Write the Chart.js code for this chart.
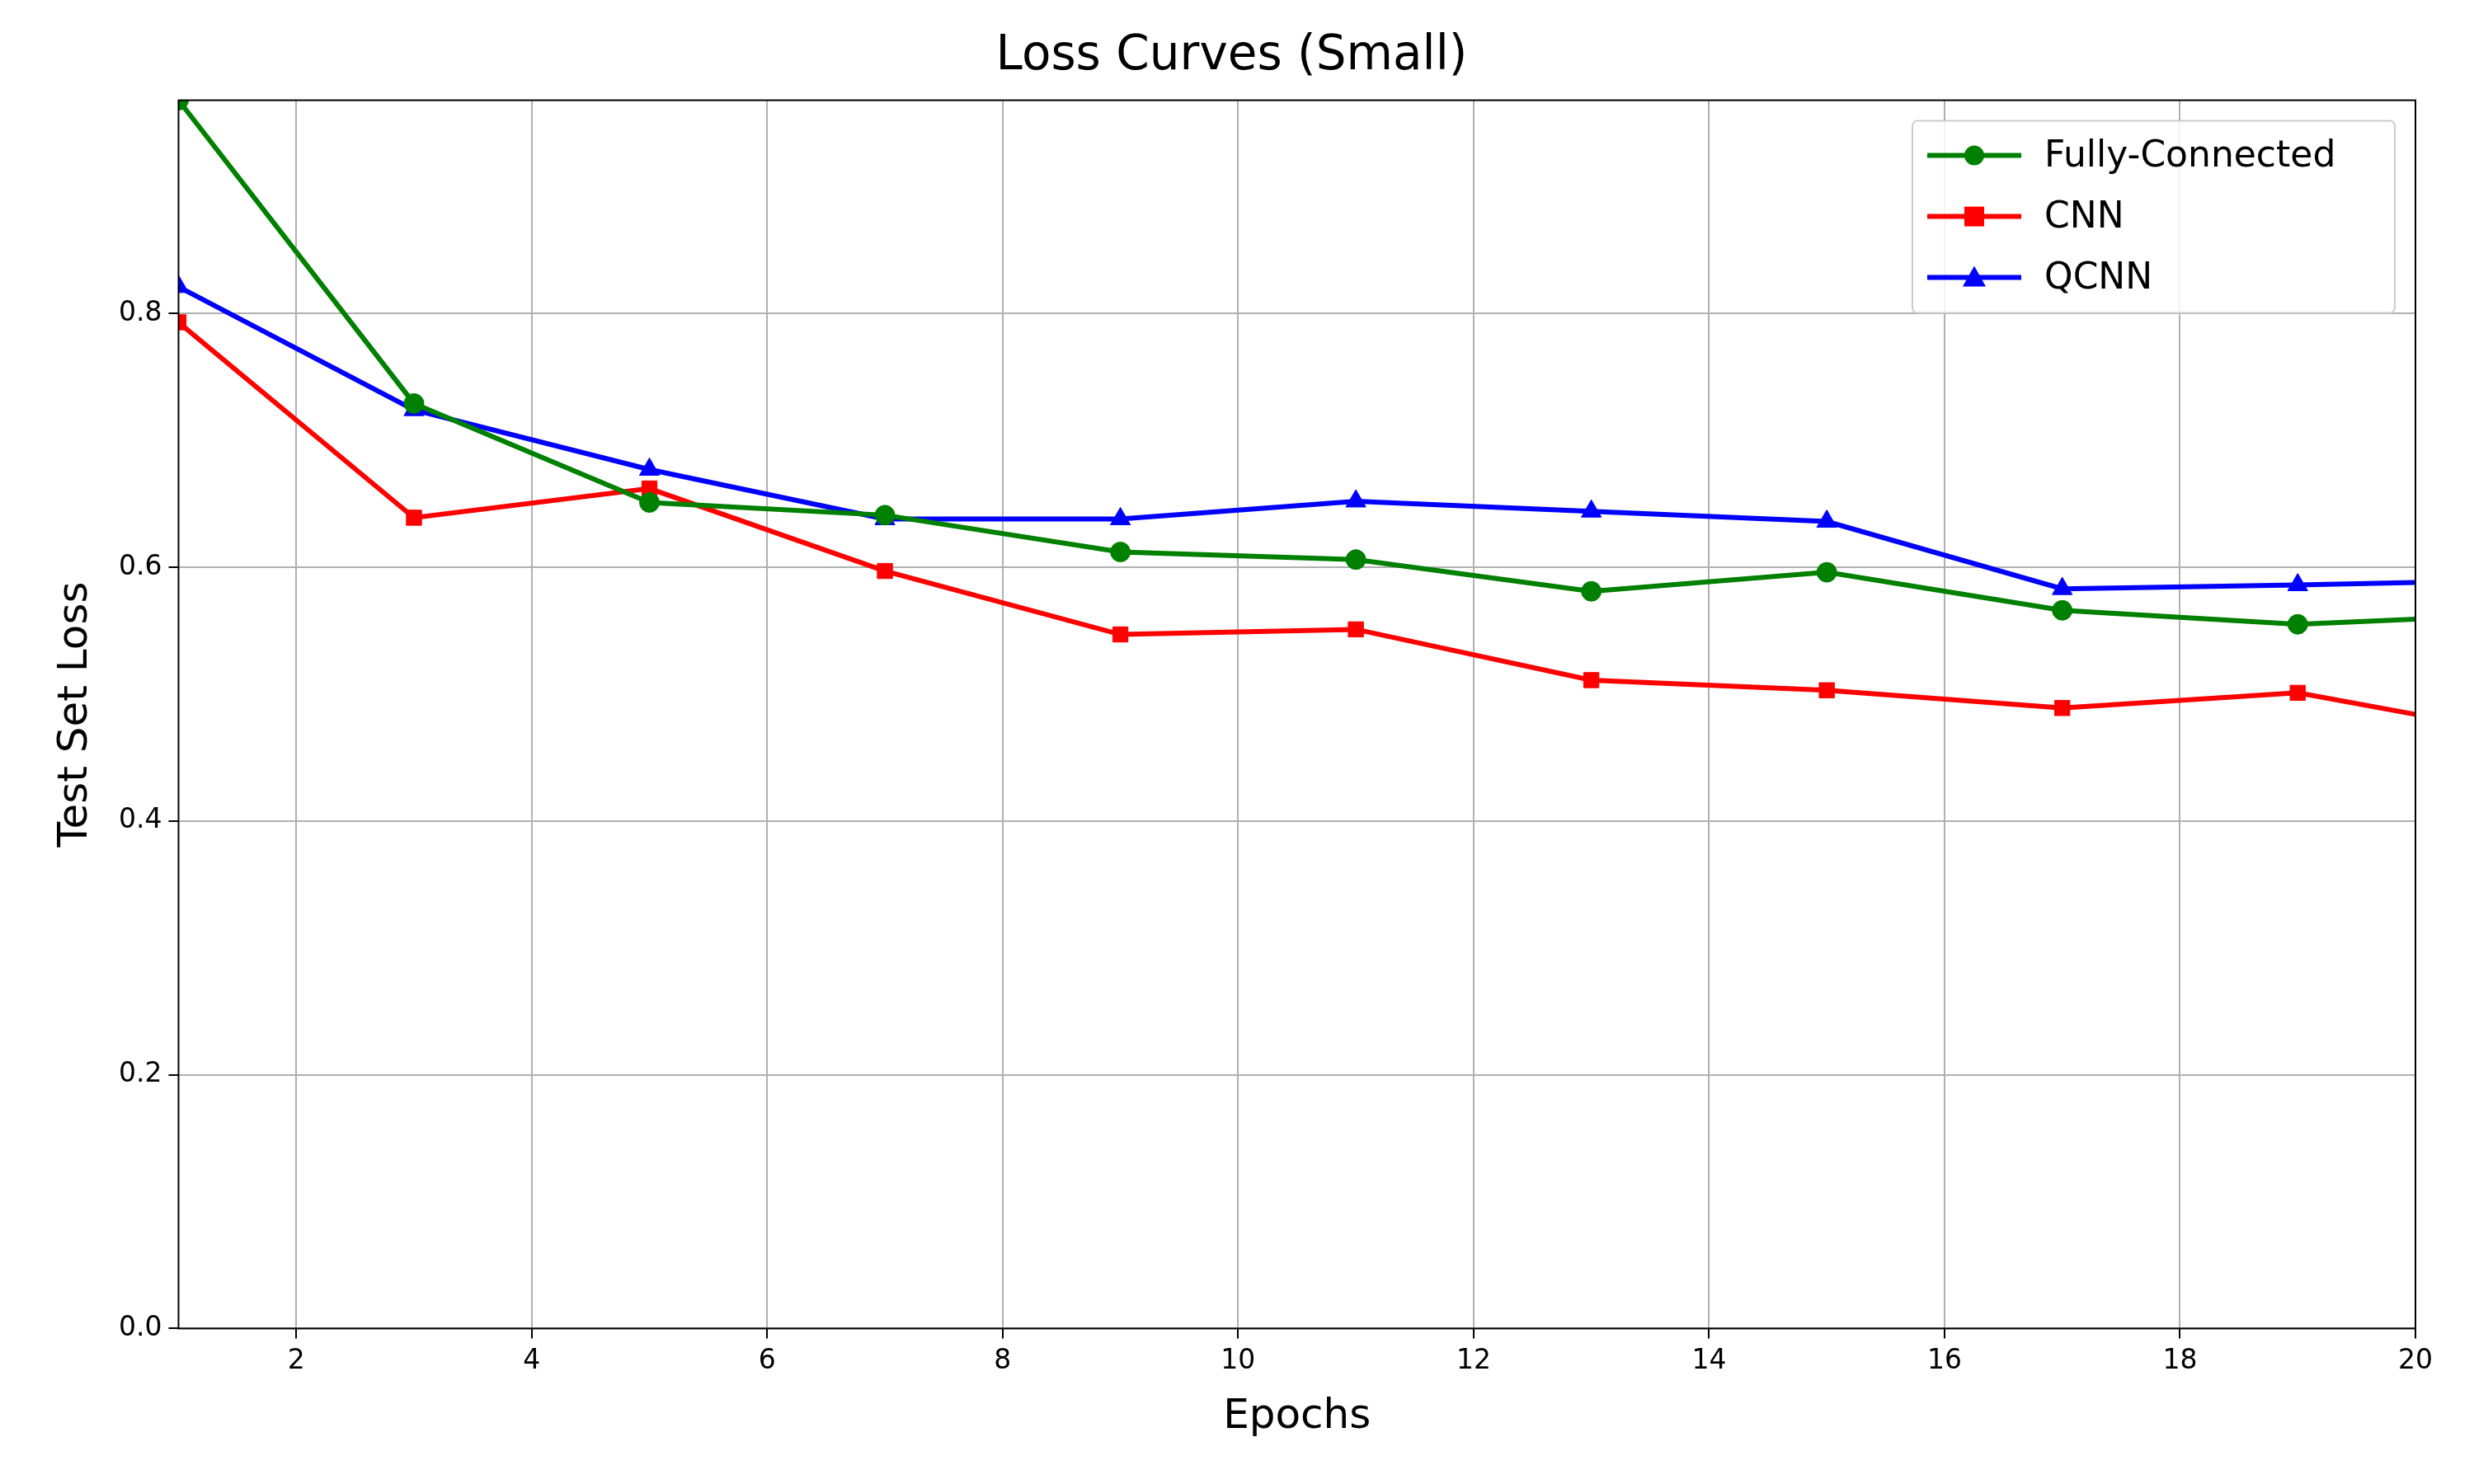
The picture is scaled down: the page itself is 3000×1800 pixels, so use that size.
<!DOCTYPE html>
<html><head><meta charset="utf-8">
<script src="https://cdn.jsdelivr.net/npm/chart.js@4"></script>
<style>html,body{margin:0;background:#fff}</style></head>
<body><div style="width:3000px;height:1800px"><canvas id="c" width="3000" height="1800"></canvas></div>
<script>
const epochs = [1,3,5,7,9,11,13,15,17,19,21];
const fcLoss = [0.968,0.729,0.651,0.641,0.612,0.606,0.581,0.596,0.566,0.555,0.563];
const cnnLoss = [0.793,0.639,0.662,0.597,0.547,0.551,0.511,0.503,0.489,0.501,0.467];
const qcnnLoss = [0.821,0.724,0.677,0.638,0.638,0.652,0.644,0.636,0.583,0.586,0.590];
const xTicks = [2,4,6,8,10,12,14,16,18,20];
const yTicks = [0,0.2,0.4,0.6,0.8];

const mk = (label, data, color, style) => ({label, data: data.map((v,i)=>({x:epochs[i],y:v})), borderColor:color, backgroundColor:color,
  pointStyle:style, pointRadius:style==='triangle'?14:style==='rect'?13:12, borderWidth:6, pointBorderWidth:1, tension:0});

const frame = {id:'frame', afterDraw(ch){const a=ch.chartArea,c=ch.ctx;c.save();c.strokeStyle='#000';c.lineWidth=2;c.strokeRect(a.left,a.top,a.right-a.left,a.bottom-a.top);
  const w=585,h=233,x=a.right-w-25,y=a.top+25;
  c.fillStyle='rgba(255,255,255,0.85)';c.strokeStyle='#ccc';c.lineWidth=2;c.beginPath();c.roundRect(x,y,w,h,6);c.fill();c.stroke();
  c.font='44px "DejaVu Sans"';c.textBaseline='middle';
  ch.data.datasets.forEach((d,i)=>{const yy=y+42+i*74;c.strokeStyle=d.borderColor;c.lineWidth=6;c.beginPath();c.moveTo(x+18,yy);c.lineTo(x+132,yy);c.stroke();
    c.fillStyle=d.borderColor;c.beginPath();
    if(d.pointStyle==='circle'){c.arc(x+75,yy,12,0,Math.PI*2);}
    else if(d.pointStyle==='rect'){c.rect(x+63,yy-12,24,24);}
    else {c.moveTo(x+75,yy-14);c.lineTo(x+89,yy+11);c.lineTo(x+61,yy+11);c.closePath();}
    c.fill();c.fillStyle='#000';c.fillText(d.label,x+160,yy+2);});
  c.restore();}};

new Chart(document.getElementById('c'),{type:'line',
 data:{datasets:[mk('Fully-Connected',fcLoss,'#008000','circle'),mk('CNN',cnnLoss,'#ff0000','rect'),mk('QCNN',qcnnLoss,'#0000ff','triangle')]},
 options:{responsive:false,animation:false,devicePixelRatio:1,
  layout:{padding:{left:58,right:71,top:16,bottom:47}},
  plugins:{legend:{display:false},tooltip:{enabled:false},
   title:{display:true,text:'Loss Curves (Small)',font:{size:58,family:'DejaVu Sans',weight:'normal'},color:'#000',padding:{top:18,bottom:18}}},
  scales:{
   x:{type:'linear',min:1,max:20,afterBuildTicks:s=>{s.ticks=xTicks.map(v=>({value:v}));},
    grid:{color:'#b0b0b0',lineWidth:2,tickColor:'#000',tickLength:12},border:{display:false},
    ticks:{font:{size:33,family:'DejaVu Sans'},color:'#000',maxRotation:0,padding:8},
    title:{display:true,text:'Epochs',font:{size:50,family:'DejaVu Sans'},color:'#000',padding:{top:10}}},
   y:{min:0,max:0.968,afterBuildTicks:s=>{s.ticks=yTicks.map(v=>({value:v}));},
    grid:{color:'#b0b0b0',lineWidth:2,tickColor:'#000',tickLength:12},border:{display:false},
    ticks:{font:{size:33,family:'DejaVu Sans'},color:'#000',padding:8,callback:v=>v.toFixed(1)},
    title:{display:true,text:'Test Set Loss',font:{size:50,family:'DejaVu Sans'},color:'#000',padding:{bottom:14}}}}},
 plugins:[frame]});
</script></body></html>
